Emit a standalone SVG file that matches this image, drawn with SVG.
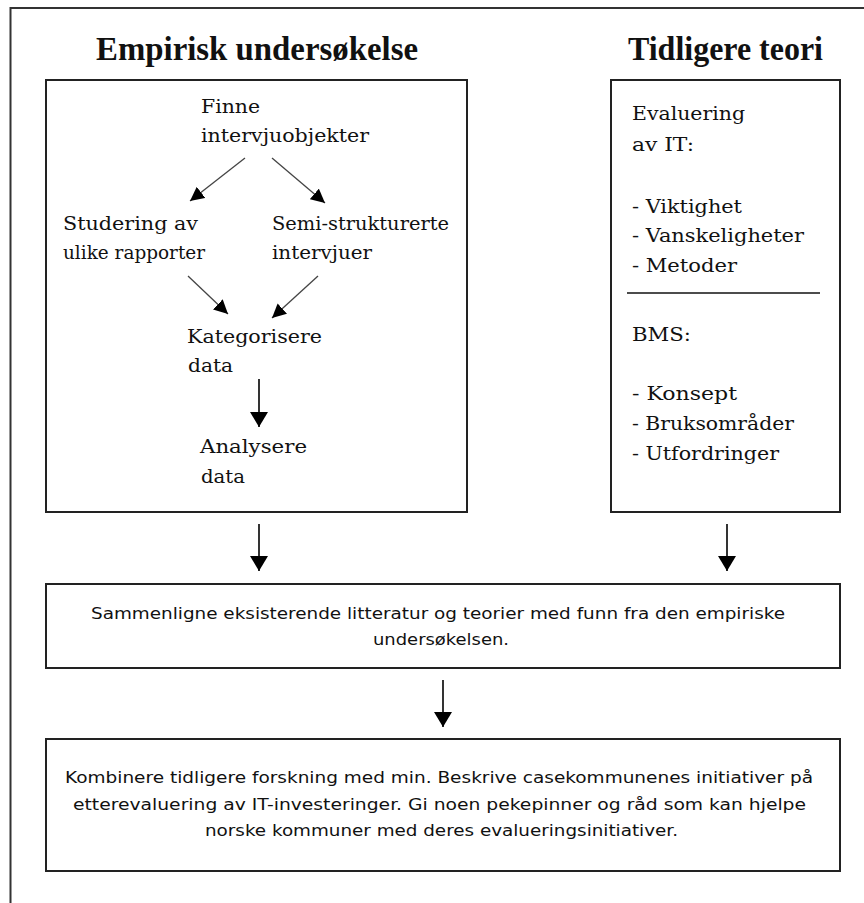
<svg xmlns="http://www.w3.org/2000/svg" width="864" height="903" viewBox="0 0 864 903">
<style>
  .frame{fill:none;stroke:#333;stroke-width:2}
  .box{fill:#fff;stroke:#222;stroke-width:2}
  .title{font-family:"Liberation Serif","Times New Roman",serif;font-weight:bold;font-size:33px;fill:#111}
  .ser{font-family:"DejaVu Serif","Liberation Serif",serif;font-size:18px;fill:#111}
  .sans{font-family:"DejaVu Sans","Liberation Sans",sans-serif;font-size:16px;fill:#111}
  .thin{stroke:#444;stroke-width:1.3;fill:none}
  .thick{stroke:#000;stroke-width:1.6;fill:none}
</style>
<defs>
  <marker id="ah" viewBox="0 0 15 18" refX="15" refY="9" markerWidth="15" markerHeight="18" markerUnits="userSpaceOnUse" orient="auto">
    <path d="M0,0 L15,9 L0,18 z" fill="#000"/>
  </marker>
  <marker id="ahs" viewBox="0 0 14 14" refX="14" refY="7" markerWidth="14" markerHeight="14" markerUnits="userSpaceOnUse" orient="auto">
    <path d="M0,0 L14,7 L0,14 z" fill="#000"/>
  </marker>
</defs>
<rect width="864" height="903" fill="#fff"/>
<g id="outer-frame">
  <path class="frame" d="M10.5,903 V8 H864"/>
</g>
<g id="title-empirisk">
  <text class="title" x="96" y="60" textLength="322" lengthAdjust="spacingAndGlyphs">Empirisk undersøkelse</text>
</g>
<g id="title-teori">
  <text class="title" x="628" y="60" textLength="195" lengthAdjust="spacingAndGlyphs">Tidligere teori</text>
</g>
<g id="box-empirisk">
  <rect class="box" x="46" y="80" width="421" height="432"/>
</g>
<g id="box-teori">
  <rect class="box" x="611" y="80" width="229" height="432"/>
  <text class="ser" x="632" y="120" textLength="113" lengthAdjust="spacingAndGlyphs">Evaluering</text>
  <text class="ser" x="632" y="151" textLength="62" lengthAdjust="spacingAndGlyphs">av IT:</text>
  <text class="ser" x="632" y="213" textLength="110" lengthAdjust="spacingAndGlyphs">- Viktighet</text>
  <text class="ser" x="632" y="242" textLength="172" lengthAdjust="spacingAndGlyphs">- Vanskeligheter</text>
  <text class="ser" x="632" y="272" textLength="105" lengthAdjust="spacingAndGlyphs">- Metoder</text>
  <line x1="627" y1="293" x2="820" y2="293" stroke="#111" stroke-width="1.5"/>
  <text class="ser" x="632" y="341" textLength="59" lengthAdjust="spacingAndGlyphs">BMS:</text>
  <text class="ser" x="632" y="400" textLength="105" lengthAdjust="spacingAndGlyphs">- Konsept</text>
  <text class="ser" x="632" y="430" textLength="162" lengthAdjust="spacingAndGlyphs">- Bruksområder</text>
  <text class="ser" x="632" y="460" textLength="147" lengthAdjust="spacingAndGlyphs">- Utfordringer</text>
</g>
<g id="node-finne">
  <text class="ser" x="201" y="113" textLength="59" lengthAdjust="spacingAndGlyphs">Finne</text>
  <text class="ser" x="201" y="142" textLength="168" lengthAdjust="spacingAndGlyphs">intervjuobjekter</text>
</g>
<g id="node-studering">
  <text class="ser" x="63" y="230" textLength="135" lengthAdjust="spacingAndGlyphs">Studering av</text>
  <text class="ser" x="63" y="259" textLength="142" lengthAdjust="spacingAndGlyphs">ulike rapporter</text>
</g>
<g id="node-semi">
  <text class="ser" x="272" y="230" textLength="177" lengthAdjust="spacingAndGlyphs">Semi-strukturerte</text>
  <text class="ser" x="272" y="259" textLength="100" lengthAdjust="spacingAndGlyphs">intervjuer</text>
</g>
<g id="node-kategorisere">
  <text class="ser" x="187" y="343" textLength="135" lengthAdjust="spacingAndGlyphs">Kategorisere</text>
  <text class="ser" x="188" y="372" textLength="45" lengthAdjust="spacingAndGlyphs">data</text>
</g>
<g id="node-analysere">
  <text class="ser" x="200" y="453" textLength="107" lengthAdjust="spacingAndGlyphs">Analysere</text>
  <text class="ser" x="201" y="483" textLength="44" lengthAdjust="spacingAndGlyphs">data</text>
</g>
<g id="node-sammenligne">
  <rect class="box" x="46" y="584" width="794" height="84"/>
  <text class="sans" x="91" y="619" textLength="694" lengthAdjust="spacingAndGlyphs">Sammenligne eksisterende litteratur og teorier med funn fra den empiriske</text>
  <text class="sans" x="373" y="645" textLength="136" lengthAdjust="spacingAndGlyphs">undersøkelsen.</text>
</g>
<g id="node-kombinere">
  <rect class="box" x="46" y="739" width="794" height="132"/>
  <text class="sans" x="65" y="783" textLength="748" lengthAdjust="spacingAndGlyphs">Kombinere tidligere forskning med min. Beskrive casekommunenes initiativer på</text>
  <text class="sans" x="73" y="810" textLength="733" lengthAdjust="spacingAndGlyphs">etterevaluering av IT-investeringer. Gi noen pekepinner og råd som kan hjelpe</text>
  <text class="sans" x="205" y="836" textLength="473" lengthAdjust="spacingAndGlyphs">norske kommuner med deres evalueringsinitiativer.</text>
</g>
<g id="connectors">
  <line class="thin" x1="245" y1="158" x2="190" y2="201" marker-end="url(#ahs)"/>
  <line class="thin" x1="272" y1="158" x2="325" y2="203" marker-end="url(#ahs)"/>
  <line class="thin" x1="188" y1="276" x2="228" y2="314" marker-end="url(#ahs)"/>
  <line class="thin" x1="318" y1="276" x2="272" y2="318" marker-end="url(#ahs)"/>
  <line class="thick" x1="259" y1="379" x2="259" y2="427" marker-end="url(#ah)"/>
  <line class="thick" x1="259" y1="524" x2="259" y2="571" marker-end="url(#ah)"/>
  <line class="thick" x1="727" y1="524" x2="727" y2="571" marker-end="url(#ah)"/>
  <line class="thick" x1="443" y1="680" x2="443" y2="727" marker-end="url(#ah)"/>
</g>
</svg>
